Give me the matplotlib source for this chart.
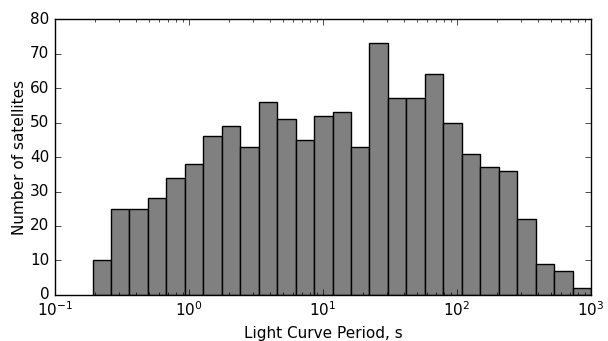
import numpy as np
from matplotlib import pyplot as plt

# log-spaced bin edges (s) and number of satellites per bin
edges = np.logspace(-0.72, 3.0, 28)
counts = [10, 25, 25, 28, 34, 38, 46, 49, 43, 56, 51, 45, 52, 53,
          43, 73, 57, 57, 64, 50, 41, 37, 36, 22, 9, 7, 2]

plt.style.use('classic')
plt.rcParams['font.family'] = 'DejaVu Sans'

fig = plt.figure(figsize=(6.08, 3.41), dpi=100, facecolor='white')
ax = fig.add_axes([0.0905, 0.135, 0.8815, 0.809])

centers = np.sqrt(edges[:-1] * edges[1:])
ax.hist(centers, bins=edges, weights=counts, color='0.5', edgecolor='black', linewidth=1.0)

ax.set_xscale('log')
ax.set_xlim(0.1, 1000)
ax.set_ylim(0, 80)
ax.set_yticks(range(0, 81, 10))
ax.tick_params(labelsize=11)
ax.set_xlabel('Light Curve Period, s', fontsize=11)
ax.set_ylabel('Number of satellites', fontsize=11, labelpad=2)

fig.savefig('out.png', dpi=100, facecolor='white')
